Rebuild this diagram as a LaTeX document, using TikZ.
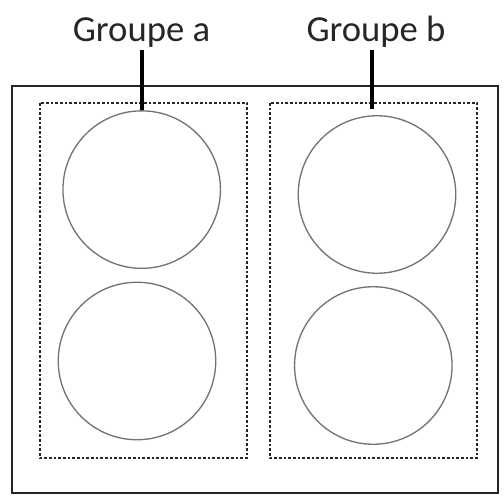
\documentclass[tikz,border=0pt]{standalone}
\usepackage{fontspec}
\setmainfont{Carlito}
\begin{document}
\begin{tikzpicture}[x=0.75pt,y=-0.75pt,
  outerbox/.style={draw=black!85,line width=1.5pt},
  groupbox/.style={draw=black!85,line width=1.1pt,dash pattern=on 2pt off 1.5pt},
  disc/.style={circle,draw=black!55,line width=1pt,inner sep=0pt,minimum size=157.5*0.75pt},
  label/.style={font=\fontsize{27.5}{32}\selectfont,text=black!85,inner sep=0pt,anchor=base},
  lead/.style={line width=3.5pt,black}]
\useasboundingbox (0,0) rectangle (504,499);
\draw[outerbox] (12,86) rectangle (498,493);
\draw[groupbox] (40,103) rectangle (247,458);
\draw[groupbox] (270,103) rectangle (477,458);
\node[disc] (a1) at (141.7,189.6) {};
\node[disc] (a2) at (137,361) {};
\node[disc] (b1) at (377,194.5) {};
\node[disc] (b2) at (373.3,365.5) {};
\node[label] (la) at (141.5,42) {Groupe a};
\node[label] (lb) at (376,42) {Groupe b};
\coordinate (ea) at (142,110);
\coordinate (eb) at (372,109);
\draw[lead] (ea|-142,50) -- (ea);
\draw[lead] (eb|-372,50) -- (eb);
\end{tikzpicture}
\end{document}
